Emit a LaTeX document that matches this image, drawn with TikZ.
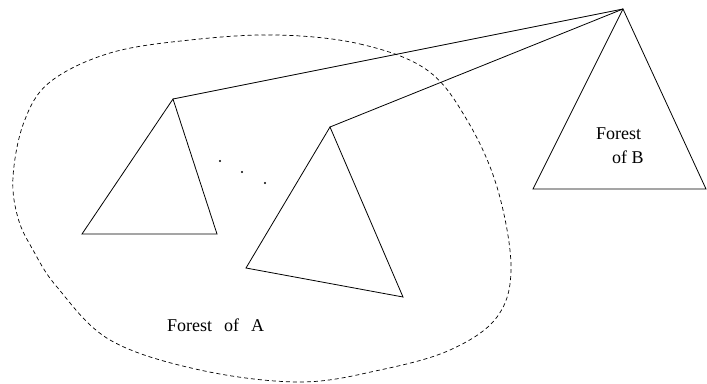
\documentclass[tikz,border=0pt]{standalone}
\usepackage{fontspec}
\setmainfont{Liberation Serif}
\begin{document}
\begin{tikzpicture}[x=1pt,y=-1pt,
  edge/.style={line width=0.8pt, line join=miter},
  region/.style={line width=0.7pt, dash pattern=on 4pt off 3pt},
  label/.style={inner sep=0pt, font=\fontsize{18}{24}\selectfont},
  dotmark/.style={fill=black, draw=none}]
\useasboundingbox (0,0) rectangle (707,383);
% dashed region (Forest of A)
\draw[region] plot[smooth cycle, tension=0.6] coordinates {
  (277,35) (360,44) (427,70) (467,120) (497,187) (511,267) (497,317)
  (450,350) (380,370) (300,382) (200,370) (110,340) (57,287) (33,250)
  (18,218) (13,177) (24,122) (50,82) (110,53) (190,40)};
% apexes
\coordinate (root) at (623,9);
\coordinate (a1) at (173,99);
\coordinate (a2) at (330,127);
\coordinate (bl) at (533,189);
\coordinate (br) at (706,189);
\coordinate (a1l) at (82,234);
\coordinate (a1r) at (217,234);
\coordinate (a2l) at (246,268);
\coordinate (a2r) at (403,297);
% triangles
\draw[edge] (root) -- (bl) -- (br) -- cycle;
\draw[edge] (a1) -- (a1l) -- (a1r) -- cycle;
\draw[edge] (a2) -- (a2l) -- (a2r) -- cycle;
% connectors
\draw[edge] (root) -- (a1);
\draw[edge] (root) -- (a2);
% dots
\fill[dotmark] (220,161) circle (1.1pt);
\fill[dotmark] (242,172) circle (1.1pt);
\fill[dotmark] (265,183) circle (1.1pt);
% labels
\node[label, anchor=base west] (fa) at (167,331) {Forest\hspace{12pt}of\hspace{12pt}A};
\node[label, anchor=base west] (fb1) at (596,139) {Forest};
\node[label, anchor=base west] (fb2) at (612,163) {of B};
\end{tikzpicture}
\end{document}
